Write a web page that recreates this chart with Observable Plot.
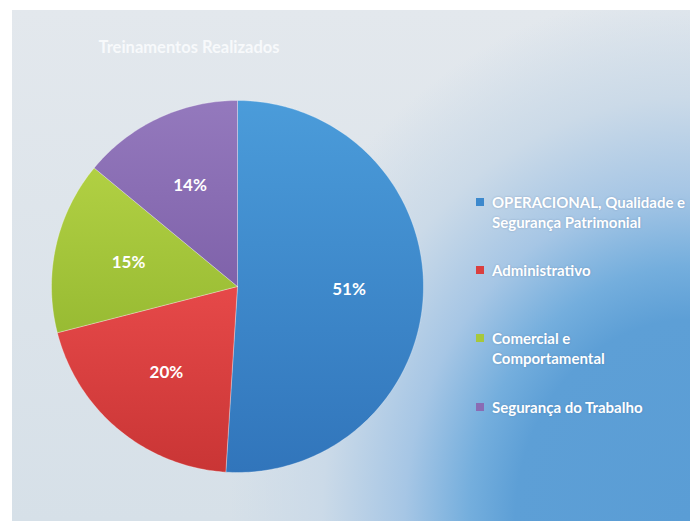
<!DOCTYPE html>
<html>
<head>
<meta charset="utf-8">
<script src="https://cdn.jsdelivr.net/npm/d3@7"></script>
<script src="https://cdn.jsdelivr.net/npm/@observablehq/plot@0.6"></script>
<style>
  html {
    margin: 0; padding: 0; overflow: hidden;
    background: linear-gradient(to right, #ffffff 0px, #ffffff 12px, #d6e0e8 12px, #d6e0e8 390px, #a6c6e5 470px, #6ea9dc 530px, #5a9dd5 600px, #5a9dd5 690px);
  }
  body { margin: 0; padding: 0; width: 690px; height: 521px; position: relative; }
  #panel {
    position: absolute; left: 12px; top: 10px; width: 678px; height: 560px;
    background:
      radial-gradient(ellipse 460px 530px at 100% 511px, #5a9dd5 0%, #5d9fd6 38%, #74aedd 48%, #a6c6e5 62%, #cbdae8 80%, rgba(214,224,234,0) 100%),
      linear-gradient(to bottom, #e3e8ed 0px, #d6e0e8 511px, #d6e0e8 560px);
  }
  #topband { position: absolute; left: 0; top: 0; width: 690px; height: 10px; background: #ffffff; }
  #wrap { position: absolute; left: 0; top: 0; width: 690px; height: 521px; font-family: Lato, "Open Sans", sans-serif; }
  #chart { position: absolute; left: 0; top: 0; }
  #title { position: absolute; left: 0; width: 378px; top: 37px; text-align: center; color: #f7f9fb; font-weight: 700; font-size: 16.5px; }
  #legend { position: absolute; left: 474px; top: 0; color: #ffffff; font-weight: 700; font-size: 15px; line-height: 20px; }
  .item { position: absolute; left: 0; width: 230px; padding-left: 18px; white-space: nowrap; text-shadow: 0 0 2px rgba(60,90,130,0.35); }
  .sw { position: absolute; left: 2px; top: 6px; width: 8px; height: 8px; }
</style>
</head>
<body>
<div id="topband"></div>
<div id="panel"></div>
<div id="wrap">
  <div id="chart"></div>
  <div id="title"></div>
  <div id="legend"></div>
</div>
<script>
const title = "Treinamentos Realizados";
const categories = ["OPERACIONAL, Qualidade e Segurança Patrimonial", "Administrativo", "Comercial e Comportamental", "Segurança do Trabalho"];
const legendLines = [["OPERACIONAL, Qualidade e", "Segurança Patrimonial"], ["Administrativo"], ["Comercial e", "Comportamental"], ["Segurança do Trabalho"]];
const values = [51, 20, 15, 14];
const colors = ["#3d89cd", "#da3f3f", "#a7c83b", "#8a6cb4"];
const gradTop = ["#4b9cda", "#e64949", "#b1d043", "#9479bd"];
const gradBottom = ["#3175bb", "#c93535", "#98bb33", "#7f62aa"];

const pie = d3.pie().sort(null).value(d => d.value)(categories.map((c, i) => ({category: c, value: values[i]})));

// polygon outline of each slice (geometry of the arc)
const outline = [];
pie.forEach((p, i) => {
  const cat = p.data.category;
  outline.push({category: cat, x: 0, y: 0});
  const n = Math.max(2, Math.ceil((p.endAngle - p.startAngle) / (Math.PI / 180)));
  for (let k = 0; k <= n; k++) {
    const a = p.startAngle + (p.endAngle - p.startAngle) * k / n;
    outline.push({category: cat, x: Math.sin(a), y: Math.cos(a)});
  }
  outline.push({category: cat, x: 0, y: 0});
});
const labels = pie.map(p => {
  const a = (p.startAngle + p.endAngle) / 2;
  return {label: p.data.value + "%", x: 0.6 * Math.sin(a), y: 0.6 * Math.cos(a)};
});

const chart = Plot.plot({
  width: 690, height: 521,
  marginLeft: 51, marginRight: 267, marginTop: 100, marginBottom: 49,
  x: {domain: [-1, 1], axis: null},
  y: {domain: [-1, 1], axis: null},
  color: {domain: categories, range: categories.map((c, i) => `url(#slice${i})`)},
  style: {background: "transparent", overflow: "visible"},
  marks: [
    Plot.line(outline, {x: "x", y: "y", z: "category", fill: "category", stroke: "rgba(255,255,255,0.3)", strokeWidth: 1, curve: "linear"}),
    Plot.text(labels, {x: "x", y: "y", text: "label", fill: "white", fontSize: 17, fontWeight: 700, fontFamily: "Lato, 'Open Sans', sans-serif"})
  ]
});
const defs = d3.select(chart).insert("defs", ":first-child");
colors.forEach((c, i) => {
  const g = defs.append("linearGradient").attr("id", `slice${i}`).attr("x1", 0).attr("y1", 0).attr("x2", 0).attr("y2", 1);
  g.append("stop").attr("offset", "0%").attr("stop-color", gradTop[i]);
  g.append("stop").attr("offset", "100%").attr("stop-color", gradBottom[i]);
});
document.getElementById("chart").appendChild(chart);
document.getElementById("title").textContent = title;

const legendTops = [192, 260, 328, 397];
const leg = document.getElementById("legend");
legendLines.forEach((lines, i) => {
  const it = document.createElement("div");
  it.className = "item";
  it.style.top = legendTops[i] + "px";
  const sw = document.createElement("div");
  sw.className = "sw";
  sw.style.background = colors[i];
  it.appendChild(sw);
  lines.forEach(t => { const d = document.createElement("div"); d.textContent = t; it.appendChild(d); });
  leg.appendChild(it);
});
</script>
</body>
</html>
